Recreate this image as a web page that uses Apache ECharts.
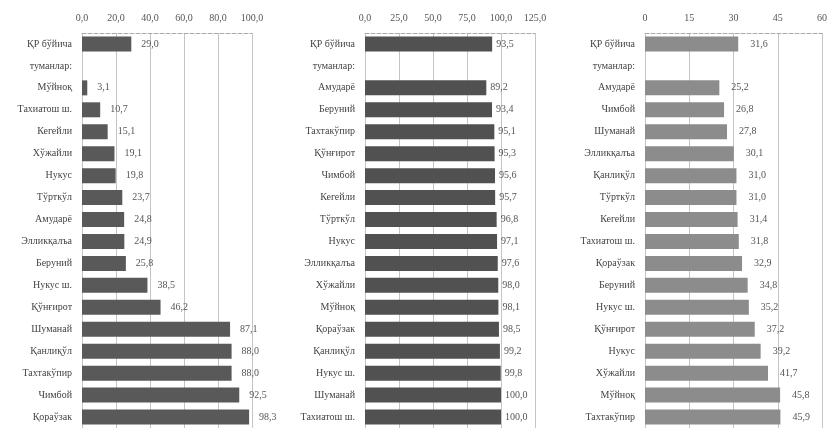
<!DOCTYPE html>
<html><head><meta charset="utf-8">
<script src="https://cdn.jsdelivr.net/npm/echarts@6/dist/echarts.min.js"></script>
<style>html,body{margin:0;padding:0;background:#fff}#c{width:830px;height:428px}</style>
</head><body><div id="c"></div>
<script>
const cats1 = ['ҚР бўйича','туманлар:','Мўйноқ','Тахиатош ш.','Кегейли','Хўжайли','Нукус','Тўрткўл','Амударё','Элликқалъа','Беруний','Нукус ш.','Қўнғирот','Шуманай','Қанлиқўл','Тахтакўпир','Чимбой','Қораўзак'];
const vals1 = [29.0, null, 3.1, 10.7, 15.1, 19.1, 19.8, 23.7, 24.8, 24.9, 25.8, 38.5, 46.2, 87.1, 88.0, 88.0, 92.5, 98.3];
const ticks1 = ['0,0','20,0','40,0','60,0','80,0','100,0'];

const cats2 = ['ҚР бўйича','туманлар:','Амударё','Беруний','Тахтакўпир','Қўнғирот','Чимбой','Кегейли','Тўрткўл','Нукус','Элликқалъа','Хўжайли','Мўйноқ','Қораўзак','Қанлиқўл','Нукус ш.','Шуманай','Тахиатош ш.'];
const vals2 = [93.5, null, 89.2, 93.4, 95.1, 95.3, 95.6, 95.7, 96.8, 97.1, 97.6, 98.0, 98.1, 98.5, 99.2, 99.8, 100.0, 100.0];
const ticks2 = ['0,0','25,0','50,0','75,0','100,0','125,0'];

const cats3 = ['ҚР бўйича','туманлар:','Амударё','Чимбой','Шуманай','Элликқалъа','Қанлиқўл','Тўрткўл','Кегейли','Тахиатош ш.','Қораўзак','Беруний','Нукус ш.','Қўнғирот','Нукус','Хўжайли','Мўйноқ','Тахтакўпир'];
const vals3 = [31.6, null, 25.2, 26.8, 27.8, 30.1, 31.0, 31.0, 31.4, 31.8, 32.9, 34.8, 35.2, 37.2, 39.2, 41.7, 45.8, 45.9];
const ticks3 = ['0','15','30','45','60'];

const font = '"Liberation Serif", "DejaVu Serif", serif';
const fmt = v => v.toFixed(1).replace('.', ',');

const panels = [
  {cats: cats1, vals: vals1, ticks: ticks1, max: 100, interval: 20, left: 82, width: 170, color: '#595959', labDist: 10},
  {cats: cats2, vals: vals2, ticks: ticks2, max: 125, interval: 25, left: 365, width: 170, color: '#515151', labDist: 4},
  {cats: cats3, vals: vals3, ticks: ticks3, max: 60, interval: 15, left: 645, width: 178, color: '#8c8c8c', labDist: 12}
];

const grid = [], xAxis = [], yAxis = [], series = [];
panels.forEach((p, i) => {
  grid.push({left: p.left, width: p.width, top: 33, height: 398});
  xAxis.push({
    type: 'value', gridIndex: i, position: 'top', min: 0, max: p.max, interval: p.interval,
    axisLine: {show: true, lineStyle: {color: '#aaa', type: 'dashed'}},
    axisTick: {show: false},
    axisLabel: {fontFamily: font, fontSize: 10, color: '#555', margin: 10,
      formatter: (v, idx) => p.ticks[Math.round(v / p.interval)]},
    splitLine: {show: true, lineStyle: {color: '#c4c4c4', width: 1}}
  });
  yAxis.push({
    type: 'category', gridIndex: i, data: p.cats, inverse: true,
    axisLine: {show: false}, axisTick: {show: false},
    axisLabel: {fontFamily: font, fontSize: 10, color: '#444', margin: 10}
  });
  series.push({
    type: 'bar', xAxisIndex: i, yAxisIndex: i, data: p.vals, barWidth: 15,
    itemStyle: {color: p.color},
    label: {show: true, position: 'right', distance: p.labDist, fontFamily: font, fontSize: 10, color: '#555',
      formatter: d => d.value == null ? '' : fmt(d.value)},
    animation: false
  });
});

const chart = echarts.init(document.getElementById('c'));
chart.setOption({animation: false, backgroundColor: '#fff', grid, xAxis, yAxis, series});
</script></body></html>
